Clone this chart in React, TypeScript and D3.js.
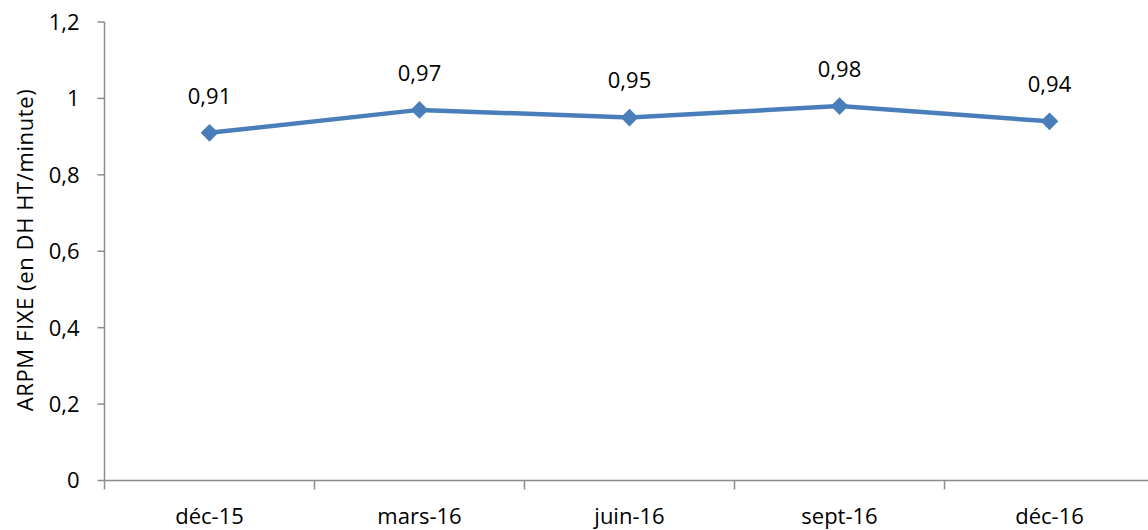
import { useEffect, useRef } from "react"
import * as d3 from "d3"

const categories = ["déc-15", "mars-16", "juin-16", "sept-16", "déc-16"]
const values = [0.91, 0.97, 0.95, 0.98, 0.94]
const yTicks = [0, 0.2, 0.4, 0.6, 0.8, 1, 1.2]

const W = 1148
const H = 530
const font = "'Open Sans', sans-serif"

const App = () => {
  const ref = useRef<SVGSVGElement>(null)

  useEffect(() => {
    if (!ref.current) return
    const svg = d3.select(ref.current)
    svg.selectAll("*").remove()

    const left = 104.5
    const x = d3.scaleBand().domain(categories).range([left, left + 1050])
    const y = d3.scaleLinear().domain([0, 1.2]).range([480.5, 22])
    const fmt = (v: number) => String(v).replace(".", ",")
    const grey = "#8c8c8c"

    // y axis
    svg.append("line")
      .attr("x1", left).attr("x2", left)
      .attr("y1", y(1.2)).attr("y2", y(0))
      .attr("stroke", grey).attr("stroke-width", 1.5)
    yTicks.forEach((t) => {
      svg.append("line")
        .attr("x1", left - 7).attr("x2", left)
        .attr("y1", y(t)).attr("y2", y(t))
        .attr("stroke", grey).attr("stroke-width", 1.5)
      svg.append("text")
        .attr("x", left - 25).attr("y", y(t))
        .attr("dy", "0.36em")
        .attr("text-anchor", "end")
        .attr("font-family", font).attr("font-size", 22)
        .text(fmt(t))
    })

    // x axis
    svg.append("line")
      .attr("x1", left).attr("x2", W)
      .attr("y1", y(0)).attr("y2", y(0))
      .attr("stroke", grey).attr("stroke-width", 1.5)
    categories.forEach((c) => {
      const x0 = x(c) as number
      svg.append("line")
        .attr("x1", x0).attr("x2", x0)
        .attr("y1", y(0)).attr("y2", y(0) + 9)
        .attr("stroke", grey).attr("stroke-width", 1.5)
      svg.append("text")
        .attr("x", x0 + x.bandwidth() / 2).attr("y", 524)
        .attr("text-anchor", "middle")
        .attr("font-family", font).attr("font-size", 22)
        .text(c)
    })

    // axis title
    svg.append("text")
      .attr("transform", `translate(33, 250) rotate(-90)`)
      .attr("text-anchor", "middle")
      .attr("font-family", font).attr("font-size", 22)
      .attr("letter-spacing", 0.6)
      .text("ARPM FIXE (en DH HT/minute)")

    const cx = (i: number) => (x(categories[i]) as number) + x.bandwidth() / 2
    const line = d3.line<number>().x((_, i) => cx(i)).y((d) => y(d))
    svg.append("path")
      .attr("d", line(values))
      .attr("fill", "none")
      .attr("stroke", "#4a7ebb")
      .attr("stroke-width", 4.5)
      .attr("stroke-linejoin", "round")

    const diamond = d3.symbol(d3.symbolDiamond2, 200)
    values.forEach((v, i) => {
      svg.append("path")
        .attr("d", diamond())
        .attr("transform", `translate(${cx(i)},${y(v)})`)
        .attr("fill", "#4a7ebb")
      svg.append("text")
        .attr("x", cx(i)).attr("y", y(v) - 37)
        .attr("dy", "0.36em")
        .attr("text-anchor", "middle")
        .attr("font-family", font).attr("font-size", 22)
        .text(fmt(v))
    })
  }, [])

  return (
    <svg
      ref={ref}
      width={W}
      height={H}
      style={{ position: "absolute", left: 0, top: 0, background: "#fff" }}
    />
  )
}

export default App
